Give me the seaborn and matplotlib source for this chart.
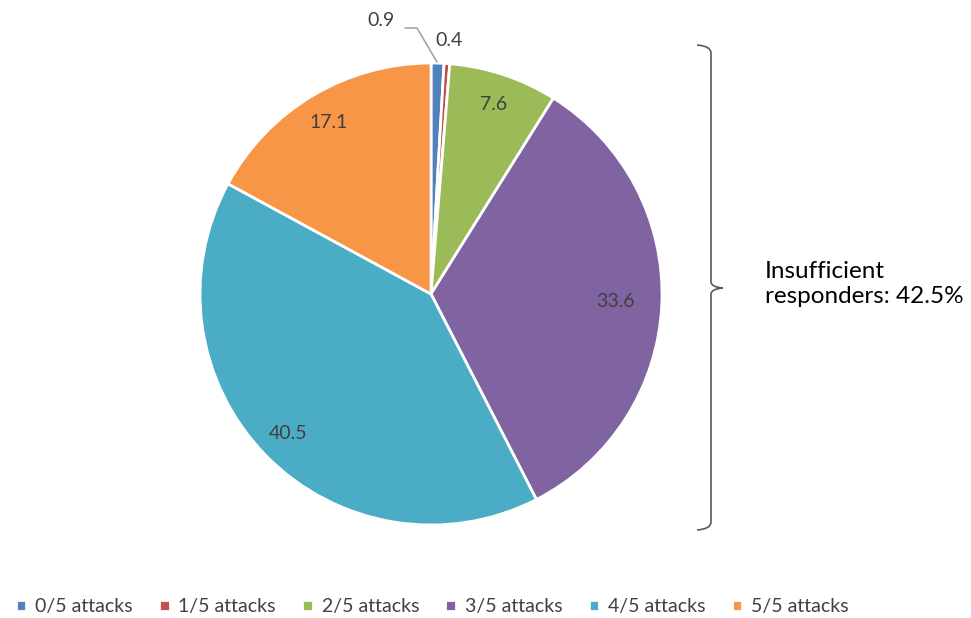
import numpy as np
import matplotlib.pyplot as plt
from matplotlib.path import Path
from matplotlib.patches import PathPatch
import seaborn as sns

categories = ["0/5 attacks", "1/5 attacks", "2/5 attacks", "3/5 attacks", "4/5 attacks", "5/5 attacks"]
shares = [0.9, 0.4, 7.6, 33.6, 40.5, 17.1]
share_labels = ["0.9", "0.4", "7.6", "33.6", "40.5", "17.1"]
colors = ["#4F81BD", "#C0504D", "#9BBB59", "#8064A2", "#4BACC6", "#F79646"]
note = "Insufficient\nresponders: 42.5%"

sns.set_theme(style="white")
plt.rcParams["font.family"] = ["Lato", "DejaVu Sans"]

W, H = 971, 618
fig = plt.figure(figsize=(W / 100, H / 100), dpi=100)
ax = fig.add_axes([0, 0, 1, 1])

cx, cy, R = 431, H - 294, 231
wedges, _ = ax.pie(shares, colors=sns.color_palette(colors), startangle=90, counterclock=False,
                   center=(cx, cy), radius=R, frame=True,
                   wedgeprops=dict(edgecolor="white", linewidth=2))
ax.set_xlim(0, W)
ax.set_ylim(0, H)
ax.set_axis_off()

# labels inside the big slices, the two tiny ones outside
for i, (w, lab) in enumerate(zip(wedges, share_labels)):
    ang = np.deg2rad((w.theta1 + w.theta2) / 2)
    if i == 0:
        ax.text(381, H - 21, lab, ha="center", va="center", fontsize=14, color="#404040")
        ax.plot([405, 417, 437], [H - 28, H - 28, H - 62], color="#A6A6A6", lw=1.2)
        continue
    if i == 1:
        ax.text(449, H - 40, lab, ha="center", va="center", fontsize=14, color="#404040")
        continue
    r = 0.8 * R if i == 3 else 0.865 * R
    ax.text(cx + r * np.cos(ang), cy + r * np.sin(ang), lab, ha="center", va="center",
            fontsize=14, color="#404040")

# curly brace on the right
x0, x1, xt = 697, 711, 723
yt, ym, yb = H - 45, H - 288, H - 530
verts = [(x0, yt), (x1, yt - 1), (x1, yt - 8),
         (x1, ym + 6),
         (x1, ym + 1), (xt, ym),
         (x1, ym - 1), (x1, ym - 6),
         (x1, yb + 8),
         (x1, yb + 1), (x0, yb)]
codes = [Path.MOVETO, Path.CURVE3, Path.CURVE3, Path.LINETO,
         Path.CURVE3, Path.CURVE3, Path.CURVE3, Path.CURVE3,
         Path.LINETO, Path.CURVE3, Path.CURVE3]
ax.add_patch(PathPatch(Path(verts, codes), fill=False, edgecolor="#595959", lw=1.2))

ax.text(765, H - 284, note, ha="left", va="center", fontsize=17.5, color="black", linespacing=1.2)

leg = ax.legend(wedges, categories, loc="lower left", bbox_to_anchor=(-0.002, -0.024),
                ncol=6, frameon=False, fontsize=14, handlelength=0.55, handleheight=0.55,
                handletextpad=0.45, columnspacing=1.35, labelcolor="#404040")

fig.savefig("out.png", dpi=100)
plt.close()
